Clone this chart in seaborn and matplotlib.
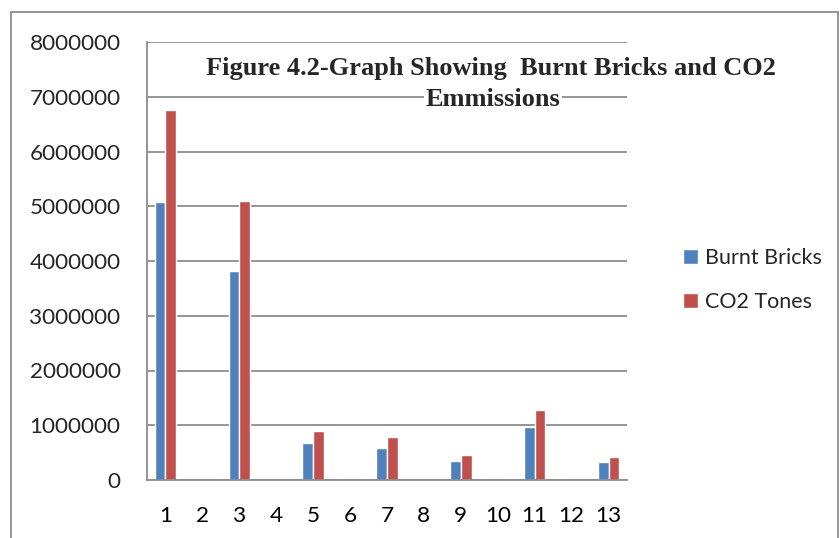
import numpy as np
import pandas as pd
import matplotlib
matplotlib.use("Agg")
import matplotlib.pyplot as plt
import seaborn as sns
from matplotlib.patches import Rectangle

# Yearly counts: burnt bricks produced and the CO2 they release
categories = [str(i) for i in range(1, 14)]
burnt_bricks = [5080000, 0, 3820000, 0, 667000, 0, 590000, 0, 347000, 0, 960000, 0, 320000]
co2_tones = [6760000, 0, 5100000, 0, 896000, 0, 785000, 0, 450000, 0, 1280000, 0, 425000]
series_names = ["Burnt Bricks", "CO2 Tones"]
y_ticks = list(range(0, 8000001, 1000000))

df = pd.DataFrame({
    "cat": categories * 2,
    "value": burnt_bricks + co2_tones,
    "series": [series_names[0]] * len(categories) + [series_names[1]] * len(categories),
})

sns.set_theme(style="white")
plt.rcParams["font.family"] = ["Lato", "DejaVu Sans"]

fig = plt.figure(figsize=(8.4, 5.38), dpi=100)
ax = fig.add_axes([147 / 840, 1 - 480 / 538, 480 / 840, 438 / 538])

palette = {"Burnt Bricks": "#4F81BD", "CO2 Tones": "#C0504D"}
sns.barplot(data=df, x="cat", y="value", hue="series", order=categories,
            hue_order=series_names, palette=palette, width=0.58, gap=0,
            saturation=1, errorbar=None, ax=ax, legend=True)

grid_c = "#8c8c8c"
ax.set_ylim(0, 8000000)
ax.set_xlim(-0.5, 12.5)
ax.set_yticks(y_ticks)
ax.set_yticklabels([str(v) for v in y_ticks], fontsize=16.2)
ax.yaxis.grid(True, color=grid_c, linewidth=1.3)
ax.set_axisbelow(True)
ax.set_xlabel("")
ax.set_ylabel("")

# category separators as ticks on the x axis
ax.set_xticks(range(13))
ax.set_xticklabels(categories, fontsize=16.2)
ax.set_xticks(np.arange(-0.5, 13, 1.0), minor=True)
ax.tick_params(axis="x", which="major", length=0, pad=19, colors="black")
ax.tick_params(axis="x", which="minor", length=6, width=1.3, color=grid_c, direction="out")
ax.tick_params(axis="y", which="major", length=7, width=1.3, color=grid_c, direction="out", pad=12)

for side in ["top", "right"]:
    ax.spines[side].set_visible(False)
for side in ["left", "bottom"]:
    ax.spines[side].set_color(grid_c)
    ax.spines[side].set_linewidth(1.3)

leg = ax.legend(loc="upper left", bbox_to_anchor=(674 / 840, 1 - 239 / 538),
                bbox_transform=fig.transFigure, frameon=False, fontsize=15.5,
                handlelength=0.7, handleheight=0.7, handletextpad=0.35,
                labelspacing=1.15, borderaxespad=0)

title_kw = dict(family="Liberation Serif", fontweight="bold", fontsize=19,
                ha="center", va="baseline",
                bbox=dict(facecolor="white", edgecolor="none", pad=1))
fig.text(491 / 840, 1 - 75 / 538, "Figure 4.2-Graph Showing  Burnt Bricks and CO2", **title_kw)
fig.text(493 / 840, 1 - 106 / 538, "Emmissions", **title_kw)

# outer chart frame
fig.patches.append(Rectangle((11 / 840, -0.05), 827 / 840, 1 - 12 / 538 + 0.05,
                             transform=fig.transFigure, fill=False,
                             edgecolor="#8c8c8c", linewidth=1.3))

fig.savefig("out.png", dpi=100)
